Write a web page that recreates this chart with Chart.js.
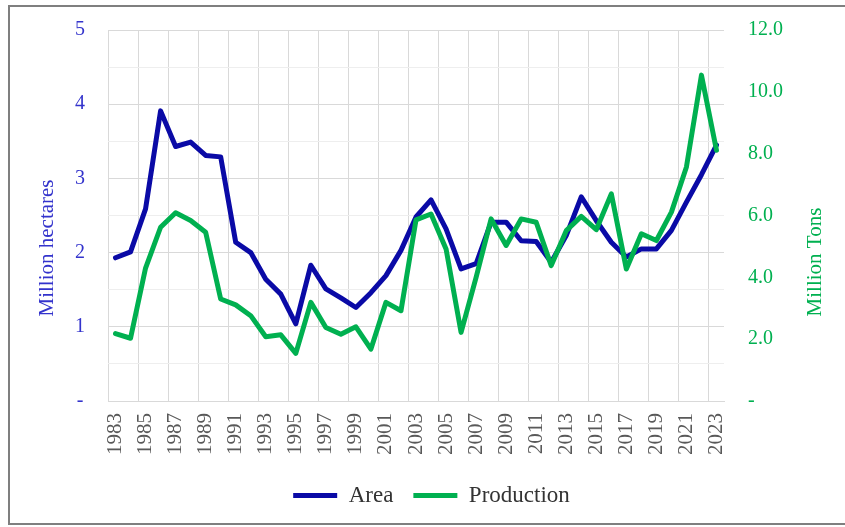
<!DOCTYPE html>
<html>
<head>
<meta charset="utf-8">
<script src="https://cdn.jsdelivr.net/npm/chart.js@4"></script>
<style>
  html, body { margin: 0; padding: 0; background: #ffffff; }
  #wrap { width: 845px; height: 527px; position: relative; }
</style>
</head>
<body>
<div id="wrap"><canvas id="c"></canvas></div>
<script>
const years = ['1983','1984','1985','1986','1987','1988','1989','1990','1991','1992',
  '1993','1994','1995','1996','1997','1998','1999','2000','2001','2002',
  '2003','2004','2005','2006','2007','2008','2009','2010','2011','2012',
  '2013','2014','2015','2016','2017','2018','2019','2020','2021','2022','2023'];

const area = [1.93, 2.01, 2.59, 3.91, 3.43, 3.49, 3.31, 3.29, 2.14, 2.00,
  1.64, 1.44, 1.04, 1.83, 1.51, 1.39, 1.26, 1.46, 1.69, 2.03,
  2.48, 2.71, 2.32, 1.78, 1.85, 2.41, 2.41, 2.16, 2.15, 1.87,
  2.23, 2.75, 2.43, 2.14, 1.94, 2.05, 2.05, 2.30, 2.68, 3.05, 3.45];

const production = [2.18, 2.03, 4.30, 5.62, 6.09, 5.84, 5.46, 3.30, 3.11, 2.76,
  2.08, 2.14, 1.54, 3.19, 2.38, 2.16, 2.40, 1.68, 3.19, 2.92,
  5.86, 6.05, 4.92, 2.22, 4.00, 5.89, 5.03, 5.89, 5.78, 4.38,
  5.51, 5.97, 5.54, 6.70, 4.27, 5.41, 5.19, 6.11, 7.57, 10.54, 8.11];

const areaTicks = ['-', '1', '2', '3', '4', '5'];
const productionTicks = ['-', '2.0', '4.0', '6.0', '8.0', '10.0', '12.0'];

const BLUE = '#0a0aa6';
const GREEN = '#00b050';
const BLUE_TXT = '#3333cc';
const SERIF = '"Liberation Serif", "Times New Roman", serif';

const decor = {
  id: 'decor',
  afterLayout(chart) {
    if (chart.legend) {
      chart.legend.left += 9;
      chart.legend.right += 9;
    }
  },
  beforeDraw(chart) {
    const c = chart.ctx;
    c.save();
    c.fillStyle = '#ffffff';
    c.fillRect(0, 0, chart.width, chart.height);
    c.restore();
  },
  afterDraw(chart) {
    const c = chart.ctx;
    c.save();
    c.strokeStyle = '#7f7f7f';
    c.lineWidth = 2;
    c.strokeRect(9, 6, 860, 518);
    c.font = '21px ' + SERIF;
    c.textAlign = 'center';
    c.textBaseline = 'middle';
    c.save();
    c.translate(47, 248);
    c.rotate(-Math.PI / 2);
    c.fillStyle = BLUE_TXT;
    c.fillText('Million hectares', 0, 0);
    c.restore();
    c.save();
    c.translate(815, 262);
    c.rotate(-Math.PI / 2);
    c.fillStyle = GREEN;
    c.fillText('Million Tons', 0, 0);
    c.restore();
    c.restore();
  }
};

function fitY(width) {
  return (s) => {
    s.width = width;
    s.paddingTop = 4;
    s.paddingBottom = 4;
  };
}

new Chart(document.getElementById('c'), {
  type: 'line',
  data: {
    labels: years,
    datasets: [
      {
        label: 'Area', data: area, yAxisID: 'yA', order: 1,
        borderColor: BLUE, backgroundColor: BLUE, borderWidth: 5,
        pointRadius: 0, tension: 0, borderCapStyle: 'round', borderJoinStyle: 'round'
      },
      {
        label: 'Production', data: production, yAxisID: 'yP', order: 0,
        borderColor: GREEN, backgroundColor: GREEN, borderWidth: 5,
        pointRadius: 0, tension: 0, borderCapStyle: 'round', borderJoinStyle: 'round'
      }
    ]
  },
  options: {
    responsive: true,
    maintainAspectRatio: false,
    animation: false,
    layout: { padding: { top: 30, left: 0, right: 0, bottom: 10 } },
    plugins: {
      tooltip: { enabled: false },
      legend: {
        position: 'bottom',
        labels: {
          sort: (a, b) => a.datasetIndex - b.datasetIndex,
          usePointStyle: true,
          pointStyle: 'line',
          pointStyleWidth: 44,
          padding: 20,
          color: '#333333',
          font: { family: SERIF, size: 23 }
        }
      }
    },
    scales: {
      x: {
        type: 'category',
        offset: true,
        afterFit: (s) => { s.height = 63; },
        border: { display: true, color: '#d9d9d9', width: 1 },
        grid: {
          offset: true,
          drawTicks: false,
          color: (ctx) => (ctx.index !== undefined && ctx.index % 2 === 0) ? '#d9d9d9' : 'rgba(0,0,0,0)'
        },
        ticks: {
          autoSkip: false,
          minRotation: 90,
          maxRotation: 90,
          padding: 12,
          color: '#595959',
          font: { family: SERIF, size: 21 },
          callback: function (v, i) { return i % 2 === 0 ? years[i] : ''; }
        }
      },
      yA: {
        type: 'linear',
        position: 'left',
        min: 0, max: 5,
        afterFit: fitY(108),
        border: { display: false },
        grid: {
          drawTicks: false,
          color: (ctx) => (ctx.tick && Math.abs(ctx.tick.value % 1) < 1e-6) ? '#d9d9d9' : '#eeeeee'
        },
        ticks: {
          stepSize: 0.5,
          padding: 23,
          crossAlign: 'center',
          color: BLUE_TXT,
          font: { family: SERIF, size: 20 },
          callback: (v) => (Math.abs(v % 1) < 1e-6) ? areaTicks[Math.round(v)] : ''
        }
      },
      yP: {
        type: 'linear',
        position: 'right',
        min: 0, max: 12,
        afterFit: fitY(121),
        border: { display: false },
        grid: { drawOnChartArea: false, drawTicks: false },
        ticks: {
          stepSize: 2,
          padding: 24,
          crossAlign: 'near',
          color: GREEN,
          font: { family: SERIF, size: 20 },
          callback: (v) => productionTicks[Math.round(v / 2)]
        }
      }
    }
  },
  plugins: [decor]
});
</script>
</body>
</html>
